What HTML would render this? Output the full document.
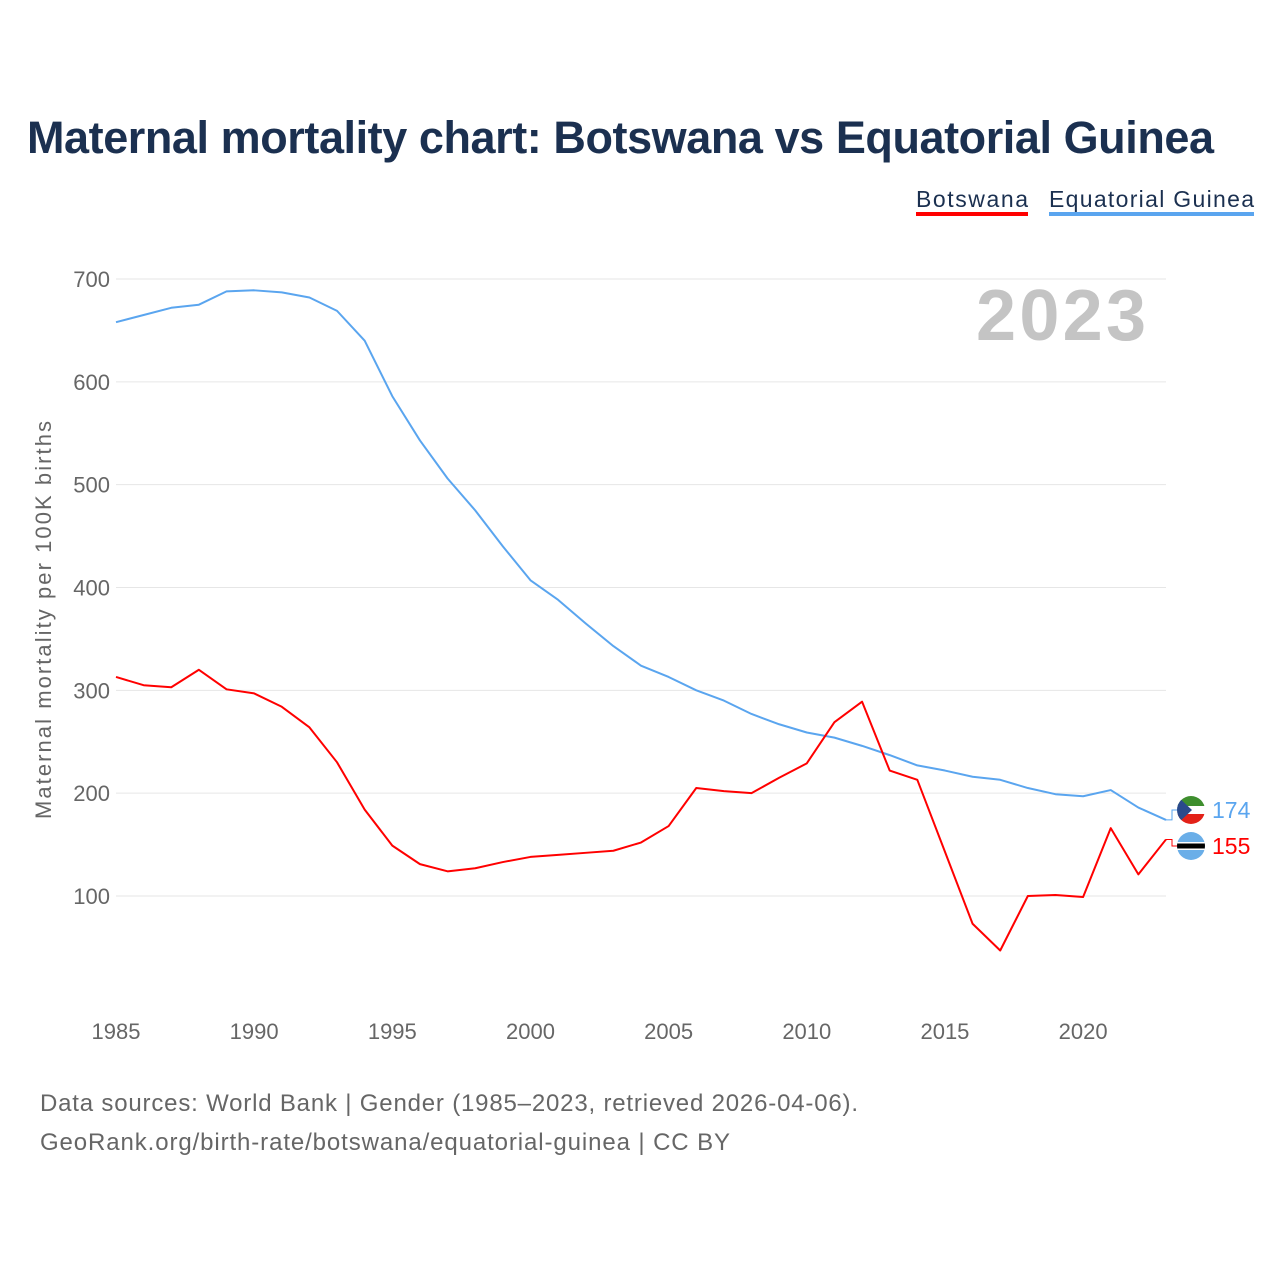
<!DOCTYPE html>
<html><head><meta charset="utf-8"><style>
body{margin:0;background:#fff;width:1280px;height:1280px;overflow:hidden;font-family:"Liberation Sans",sans-serif}
</style></head><body>
<svg width="1280" height="1280" id="chart" style="position:absolute;left:0;top:0">
<defs><clipPath id="cf1"><circle cx="1191" cy="810" r="14"/></clipPath><clipPath id="cf2"><circle cx="1191" cy="846" r="14"/></clipPath></defs>
<text x="27" y="153" font-size="45" font-weight="bold" fill="#1b3050" textLength="1187">Maternal mortality chart: Botswana vs Equatorial Guinea</text>
<g>
<text x="916" y="207" font-size="23" fill="#1b3050" textLength="112">Botswana</text>
<rect x="916" y="212" width="112" height="4" fill="#f00"/>
<text x="1049" y="207" font-size="23" fill="#1b3050" textLength="205">Equatorial Guinea</text>
<rect x="1049" y="212" width="205" height="4" fill="#5aa5ef"/>
</g>
<text x="1146" y="340" font-size="72" font-weight="bold" fill="#c4c4c4" text-anchor="end" textLength="170">2023</text>
<g id="grid"></g><g id="xt"></g><g id="lines"></g>
<text transform="translate(51,620) rotate(-90)" font-size="22" fill="#666" text-anchor="middle" textLength="398">Maternal mortality per 100K births</text>
<text x="40" y="1111" font-size="24" fill="#666" textLength="818">Data sources: World Bank | Gender (1985–2023, retrieved 2026-04-06).</text>
<text x="40" y="1150" font-size="24" fill="#666" textLength="690">GeoRank.org/birth-rate/botswana/equatorial-guinea | CC BY</text>
</svg>
<script>
const years=[];for(let y=1985;y<=2023;y++)years.push(y);
const equatorialGuinea=[658,665,672,675,688,689,687,682,669,640,586,543,506,475,440,407,388,365,343,324,313,300,290,277,267,259,254,246,237,227,222,216,213,205,199,197,203,186,174];
const botswana=[313,305,303,320,301,297,284,264,230,184,149,131,124,127,133,138,140,142,144,152,168,205,202,200,215,229,269,289,222,213,143,73,47,100,101,99,166,121,155];
const yTicks=[100,200,300,400,500,600,700];
const xTicks=[1985,1990,1995,2000,2005,2010,2015,2020];
const NS="http://www.w3.org/2000/svg";
const xs=y=>116+(y-1985)*(1050/38);
const ys=v=>896-(v-100)*(617/600);
function mk(t,a,p){const e=document.createElementNS(NS,t);for(const k in a)e.setAttribute(k,a[k]);p.appendChild(e);return e;}
const grid=document.getElementById('grid');
yTicks.forEach(v=>{
const l=mk('line',{x1:116,x2:1166,y1:ys(v),y2:ys(v),stroke:'#e6e6e6','stroke-width':1},grid);


const t=mk('text',{x:110,y:ys(v)+8,'font-size':22,fill:'#666','text-anchor':'end'},grid);t.textContent=v;


});
const xt=document.getElementById('xt');
xTicks.forEach(y=>{
const t=mk('text',{x:xs(y),y:1039,'font-size':22,fill:'#666','text-anchor':'middle'},xt);t.textContent=y;


});
const lines=document.getElementById('lines');
function series(vals,col,name,ly,clip){
const p=mk('polyline',{points:vals.map((v,i)=>xs(years[i])+','+ys(v)).join(' '),fill:'none',stroke:col,'stroke-width':2,'stroke-linejoin':'round'},lines);


const last=vals[vals.length-1];
const c=mk('polyline',{points:xs(2023)+','+ys(last)+' 1172,'+ys(last)+' 1172,'+ly+' 1178,'+ly,fill:'none',stroke:col,'stroke-width':1},lines);


const g=mk('g',{'clip-path':'url(#'+clip+')'},lines);


if(name==='botswana'){mk('rect',{x:1175,y:ly-16,width:32,height:32,fill:'#6aaee8'},g);mk('rect',{x:1175,y:ly-4,width:32,height:8,fill:'#fff'},g);mk('rect',{x:1175,y:ly-2.5,width:32,height:5,fill:'#000'},g);}
else{mk('rect',{x:1175,y:ly-16,width:32,height:12,fill:'#3e8e2e'},g);mk('rect',{x:1175,y:ly+4,width:32,height:12,fill:'#e32118'},g);mk('rect',{x:1175,y:ly-4,width:32,height:8,fill:'#fff'},g);mk('path',{d:`M1175 ${ly-16} L1192 ${ly} L1175 ${ly+16}Z`,fill:'#2a4a8c'},g);}
const t=mk('text',{x:1212,y:ly+8,'font-size':23,fill:col},lines);t.textContent=last;


}
series(equatorialGuinea,'#5aa5ef','equatorial-guinea',810,'cf1');
series(botswana,'#f00','botswana',846,'cf2');
</script>
</body></html>
